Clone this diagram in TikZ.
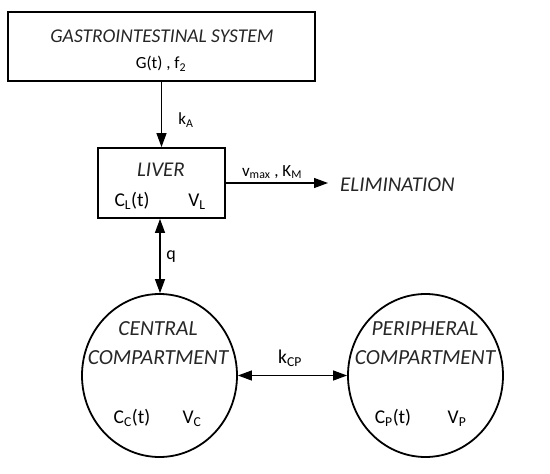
\documentclass[tikz,border=0pt]{standalone}
\usepackage{fontspec}
\setmainfont{Carlito}
\usetikzlibrary{arrows.meta,shapes.geometric}
\newcommand{\sbs}[1]{\textsubscript{#1}}
\begin{document}
\begin{tikzpicture}[x=1pt,y=-1pt,
  boxthick/.style={draw,line width=1.8pt},
  conn/.style={line width=1.2pt,-{Triangle[length=14pt,width=10pt]}},
  bconn/.style={line width=1.2pt,{Triangle[length=14pt,width=10pt]}-{Triangle[length=14pt,width=10pt]}},
  lbl/.style={font=\fontsize{17}{20}\selectfont,inner sep=0pt},
  biglbl/.style={font=\fontsize{19.5}{22}\selectfont,inner sep=0pt},
  ttl/.style={font=\fontsize{21}{24}\selectfont\itshape,text=black!85,inner sep=0pt},
  cttl/.style={font=\fontsize{21.5}{24}\selectfont\itshape,text=black!85,inner sep=0pt},
  comp/.style={draw,line width=1.8pt,ellipse,minimum width=155pt,minimum height=163pt,inner sep=0pt}]
\useasboundingbox (0,0) rectangle (550,474);
% boxes
\node[boxthick,minimum width=307pt,minimum height=69pt,inner sep=0pt] (gi) at (161.5,46.5) {};
\node[ttl,font=\fontsize{19.5}{22}\selectfont\itshape] (gititle) at (162,36) {GASTROINTESTINAL SYSTEM};
\node[lbl] (gipar) at (161,64) {G(t) , f\sbs{2}};
\node[boxthick,minimum width=127pt,minimum height=70pt,inner sep=0pt] (liver) at (161.5,183) {};
\node[ttl] (livertitle) at (161,170) {LIVER};
\node[biglbl] (cl) at (132,201) {C\sbs{L}(t)};
\node[biglbl] (vl) at (197,202) {V\sbs{L}};
\node[ttl,anchor=west] (elim) at (340,185) {ELIMINATION};
% compartments
\node[comp] (central) at (159.5,375.5) {};
\node[comp] (periph) at (425.5,375.5) {};
\node[cttl] (ct1) at (158,329) {CENTRAL};
\node[cttl] (ct2) at (158,358) {COMPARTMENT};
\node[cttl] (pt1) at (425,329) {PERIPHERAL};
\node[cttl] (pt2) at (425,358) {COMPARTMENT};
\node[biglbl] (cc) at (132,418) {C\sbs{C}(t)};
\node[biglbl] (vc) at (192,419) {V\sbs{C}};
\node[biglbl] (cp) at (393,418) {C\sbs{P}(t)};
\node[biglbl] (vp) at (457,419) {V\sbs{P}};
% connectors
\draw[conn] (gi.south -| 161.5,0) -- (liver.north);
\node[lbl] (ka) at (186,120) {k\sbs{A}};
\coordinate (elimend) at (328,183);
\draw[conn] (liver.east) -- (elimend);
\node[lbl] (vmax) at (272,172) {v\sbs{max} , K\sbs{M}};
\draw[bconn] (liver.south -| 160,0) -- (central.north -| 160,0);
\node[biglbl,font=\fontsize{18}{20}\selectfont] (q) at (171,257) {q};
\draw[bconn] (central.east) -- (periph.west);
\node[biglbl] (kcp) at (290,358) {k\sbs{CP}};
\end{tikzpicture}
\end{document}
